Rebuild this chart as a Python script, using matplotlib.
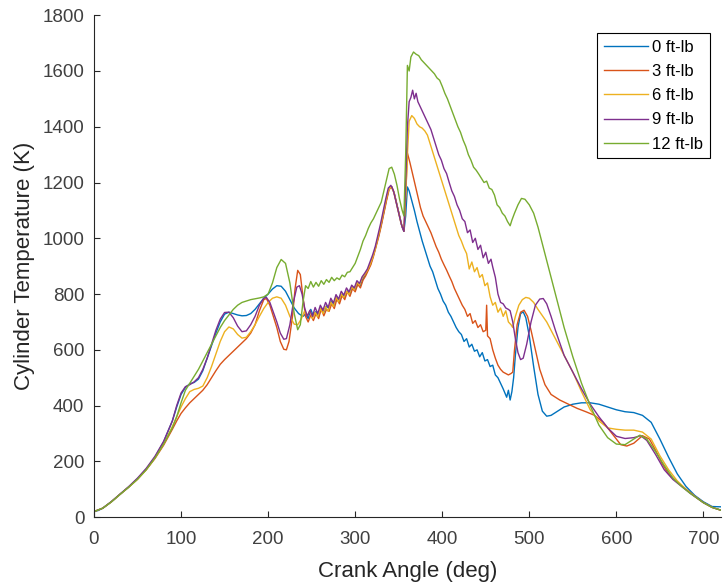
import matplotlib
matplotlib.use('Agg')
import matplotlib.pyplot as plt
import numpy as np

plt.rcParams['font.family'] = ['Liberation Sans', 'DejaVu Sans']

labels = ['0 ft-lb', '3 ft-lb', '6 ft-lb', '9 ft-lb', '12 ft-lb']
colors = ['#0072BD', '#D95319', '#EDB120', '#7E2F8E', '#77AC30']

# 0 ft-lb
blue = [(0, 20), (5, 24), (10, 32), (20, 55), (30, 82), (40, 108), (50, 138), (60, 172), (70, 215), (80, 270),
        (90, 345), (95, 395), (100, 440), (105, 465), (110, 478), (115, 483), (120, 495), (125, 525), (130, 570),
        (135, 615), (140, 660), (145, 700), (150, 728), (155, 735), (160, 730), (165, 725), (170, 722), (175, 723),
        (180, 730), (185, 745), (190, 765), (195, 785), (200, 800), (205, 818), (210, 830), (215, 828), (220, 810),
        (225, 780), (230, 750), (235, 730), (240, 720), (243, 728), (246, 712), (249, 745), (252, 722), (255, 738),
        (258, 718), (261, 752), (264, 735), (267, 758), (270, 748), (273, 775), (276, 760), (279, 790), (282, 772),
        (285, 800), (288, 788), (291, 812), (294, 798), (297, 825), (300, 815), (303, 838), (306, 830), (309, 855),
        (312, 870), (315, 890), (318, 910), (321, 940), (324, 975), (327, 1010), (330, 1050), (333, 1095),
        (336, 1140), (339, 1180), (342, 1185), (345, 1160), (348, 1120), (351, 1080), (354, 1040), (356, 1025),
        (358, 1080), (360, 1184), (362, 1170), (365, 1135), (368, 1100), (371, 1060), (374, 1025), (377, 990),
        (380, 960), (383, 930), (386, 900), (389, 880), (392, 850), (395, 820), (398, 800), (401, 775), (404, 760),
        (407, 735), (410, 720), (413, 700), (416, 680), (419, 665), (422, 655), (425, 630), (428, 640), (431, 610),
        (434, 620), (437, 595), (440, 600), (443, 575), (446, 590), (449, 560), (452, 565), (455, 540), (458, 545),
        (461, 510), (464, 500), (467, 480), (470, 460), (472, 445), (474, 430), (476, 455), (478, 420), (480, 450),
        (482, 500), (484, 580), (487, 680), (490, 730), (493, 736), (496, 715), (500, 650), (505, 540), (510, 440),
        (515, 380), (520, 362), (525, 365), (530, 375), (540, 395), (550, 405), (560, 410), (570, 410), (580, 405),
        (590, 395), (600, 385), (610, 378), (620, 375), (630, 365), (640, 340), (650, 280), (660, 215), (670, 155),
        (680, 110), (690, 78), (700, 55), (710, 38), (720, 37)]

# 3 ft-lb
red = [(0, 20), (10, 32), (20, 55), (30, 82), (40, 108), (50, 136), (60, 170), (70, 210), (80, 258), (90, 315),
       (95, 345), (100, 372), (105, 392), (110, 410), (115, 425), (120, 440), (125, 455), (130, 475), (135, 500),
       (140, 525), (145, 548), (150, 565), (155, 580), (160, 595), (165, 610), (170, 625), (175, 640), (180, 660),
       (185, 690), (190, 740), (195, 780), (198, 784), (202, 760), (206, 720), (210, 680), (214, 630), (218, 602),
       (221, 600), (224, 630), (228, 720), (231, 820), (234, 885), (237, 870), (240, 790), (243, 720), (246, 700),
       (249, 725), (252, 705), (255, 730), (258, 712), (261, 748), (264, 722), (267, 745), (270, 738), (273, 765),
       (276, 748), (279, 782), (282, 765), (285, 795), (288, 780), (291, 808), (294, 792), (297, 820), (300, 808),
       (303, 835), (306, 822), (309, 850), (312, 865), (315, 885), (318, 905), (321, 935), (324, 970), (327, 1005),
       (330, 1045), (333, 1090), (336, 1135), (339, 1175), (342, 1185), (345, 1160), (348, 1120), (351, 1080),
       (354, 1040), (356, 1025), (358, 1150), (360, 1306), (363, 1270), (366, 1230), (369, 1190), (372, 1150),
       (375, 1110), (378, 1080), (381, 1060), (384, 1040), (387, 1020), (390, 995), (393, 970), (396, 950),
       (399, 925), (402, 905), (405, 886), (408, 865), (411, 845), (414, 820), (417, 800), (420, 780), (423, 760),
       (426, 745), (429, 720), (432, 730), (435, 695), (438, 705), (441, 680), (444, 690), (447, 665), (450, 670),
       (451, 760), (452, 650), (455, 640), (458, 600), (461, 570), (464, 545), (467, 530), (470, 520), (473, 515),
       (476, 510), (479, 515), (481, 520), (483, 600), (486, 690), (490, 735), (494, 742), (498, 720), (502, 670),
       (507, 600), (512, 530), (518, 475), (525, 440), (535, 420), (545, 405), (555, 390), (565, 378), (575, 365),
       (585, 340), (595, 300), (605, 260), (612, 255), (620, 265), (630, 292), (638, 280), (645, 240), (652, 195),
       (660, 155), (670, 125), (680, 100), (690, 75), (700, 52), (710, 35), (720, 25)]

# 6 ft-lb
yellow = [(0, 20), (10, 32), (20, 55), (30, 82), (40, 108), (50, 136), (60, 170), (70, 212), (80, 262), (90, 325),
          (95, 360), (100, 395), (105, 425), (110, 450), (115, 458), (120, 462), (125, 470), (130, 500), (135, 540),
          (140, 585), (145, 630), (150, 665), (155, 682), (160, 675), (165, 655), (170, 642), (175, 645), (180, 665),
          (185, 690), (190, 720), (195, 748), (200, 770), (205, 785), (210, 790), (215, 785), (220, 760), (225, 720),
          (230, 692), (234, 690), (238, 710), (242, 740), (245, 722), (248, 740), (251, 712), (254, 735), (257, 718),
          (260, 748), (263, 730), (266, 755), (269, 738), (272, 772), (275, 755), (278, 788), (281, 772), (284, 800),
          (287, 788), (290, 810), (293, 798), (296, 826), (299, 815), (302, 842), (305, 832), (308, 858), (311, 870),
          (314, 885), (317, 905), (320, 930), (323, 960), (326, 1000), (329, 1040), (332, 1085), (335, 1130),
          (338, 1170), (341, 1185), (344, 1170), (347, 1130), (350, 1090), (353, 1050), (356, 1030), (358, 1150),
          (360, 1300), (362, 1420), (365, 1440), (368, 1430), (371, 1410), (374, 1400), (377, 1395), (380, 1385),
          (383, 1370), (386, 1340), (389, 1310), (392, 1280), (395, 1250), (398, 1220), (401, 1190), (404, 1160),
          (407, 1130), (410, 1100), (413, 1070), (416, 1040), (419, 1010), (422, 990), (425, 965), (428, 945),
          (431, 890), (434, 915), (437, 880), (440, 895), (443, 860), (446, 870), (449, 830), (452, 840), (455, 790),
          (458, 760), (461, 770), (464, 735), (467, 750), (470, 720), (473, 740), (476, 700), (479, 690), (481, 680),
          (484, 720), (488, 760), (492, 780), (496, 788), (500, 785), (505, 770), (510, 745), (520, 700), (530, 640),
          (540, 580), (550, 520), (560, 450), (570, 385), (580, 345), (590, 320), (600, 315), (610, 312), (620, 312),
          (630, 305), (640, 280), (650, 220), (660, 170), (670, 130), (680, 100), (690, 75), (700, 52), (710, 35),
          (720, 25)]

# 9 ft-lb
purple = [(0, 20), (10, 32), (20, 56), (30, 83), (40, 110), (50, 140), (60, 175), (70, 218), (80, 272), (90, 345),
          (95, 400), (100, 445), (105, 468), (110, 475), (115, 485), (120, 500), (125, 530), (130, 570), (135, 620),
          (140, 670), (145, 710), (150, 734), (155, 735), (160, 715), (165, 685), (170, 665), (175, 668), (180, 690),
          (185, 720), (190, 760), (195, 785), (198, 788), (202, 770), (206, 735), (210, 700), (214, 660), (218, 638),
          (221, 640), (225, 690), (229, 770), (233, 825), (236, 830), (239, 800), (242, 750), (245, 720), (248, 742),
          (251, 720), (254, 752), (257, 730), (260, 760), (263, 742), (266, 770), (269, 752), (272, 785), (275, 768),
          (278, 798), (281, 782), (284, 810), (287, 796), (290, 822), (293, 808), (296, 832), (299, 822), (302, 848),
          (305, 838), (308, 862), (311, 875), (314, 890), (317, 915), (320, 940), (323, 970), (326, 1010),
          (329, 1050), (332, 1095), (335, 1140), (338, 1180), (341, 1190), (344, 1170), (347, 1130), (350, 1090),
          (353, 1050), (356, 1025), (358, 1200), (360, 1400), (362, 1490), (364, 1505), (366, 1531), (368, 1500),
          (370, 1520), (372, 1490), (375, 1470), (378, 1450), (381, 1430), (384, 1410), (387, 1390), (390, 1360),
          (393, 1330), (396, 1300), (399, 1280), (402, 1250), (405, 1232), (408, 1200), (411, 1170), (414, 1150),
          (417, 1120), (420, 1100), (423, 1070), (426, 1060), (429, 1020), (432, 1030), (435, 985), (438, 1000),
          (441, 960), (444, 975), (447, 930), (450, 950), (453, 910), (456, 925), (458, 897), (461, 860), (464, 800),
          (467, 770), (470, 765), (473, 750), (476, 745), (478, 740), (481, 700), (484, 640), (487, 590), (490, 565),
          (493, 570), (497, 620), (502, 700), (507, 760), (512, 782), (516, 784), (520, 765), (525, 720), (530, 670),
          (540, 580), (550, 520), (560, 460), (570, 405), (580, 360), (590, 320), (600, 290), (610, 282), (620, 285),
          (628, 292), (635, 275), (645, 225), (655, 170), (665, 135), (675, 110), (685, 85), (700, 52), (710, 35),
          (720, 25)]

# 12 ft-lb
green = [(0, 20), (10, 32), (20, 55), (30, 82), (40, 108), (50, 136), (60, 170), (70, 212), (80, 262), (90, 320),
         (95, 360), (100, 410), (105, 455), (110, 480), (115, 505), (120, 530), (125, 560), (130, 590), (135, 620),
         (140, 650), (145, 680), (150, 705), (155, 725), (160, 745), (165, 760), (170, 770), (175, 775), (180, 780),
         (185, 783), (190, 786), (195, 790), (200, 800), (205, 840), (210, 895), (215, 924), (220, 910), (225, 840),
         (230, 730), (234, 672), (237, 690), (240, 770), (243, 830), (246, 820), (249, 845), (252, 825), (255, 842),
         (258, 828), (261, 848), (264, 835), (267, 852), (270, 842), (273, 860), (276, 848), (279, 858), (282, 852),
         (285, 868), (288, 862), (291, 878), (294, 880), (297, 895), (300, 910), (303, 935), (306, 960), (309, 990),
         (312, 1010), (315, 1035), (318, 1055), (321, 1070), (324, 1090), (327, 1110), (330, 1130), (333, 1170),
         (336, 1210), (339, 1250), (342, 1255), (345, 1230), (348, 1190), (351, 1140), (354, 1100), (356, 1080),
         (358, 1300), (360, 1620), (362, 1600), (364, 1650), (367, 1668), (370, 1660), (373, 1655), (376, 1640),
         (379, 1630), (382, 1620), (385, 1610), (388, 1600), (391, 1590), (394, 1575), (397, 1567), (400, 1545),
         (403, 1520), (406, 1500), (409, 1475), (412, 1450), (415, 1425), (418, 1400), (421, 1380), (424, 1352),
         (427, 1330), (430, 1300), (433, 1280), (436, 1255), (439, 1244), (442, 1230), (445, 1215), (448, 1200),
         (451, 1205), (454, 1180), (457, 1175), (460, 1155), (463, 1120), (466, 1110), (469, 1090), (472, 1080),
         (475, 1060), (478, 1045), (480, 1065), (483, 1090), (487, 1120), (491, 1143), (495, 1140), (500, 1120),
         (505, 1090), (510, 1040), (515, 980), (520, 920), (525, 860), (530, 800), (540, 680), (550, 575),
         (560, 480), (570, 400), (580, 330), (590, 285), (600, 262), (610, 260), (620, 280), (627, 294), (635, 280),
         (645, 235), (655, 185), (665, 140), (675, 110), (685, 85), (700, 52), (710, 35), (720, 25)]

series = [blue, red, yellow, purple, green]

fig = plt.figure(figsize=(7.23, 5.85), dpi=100)
ax = fig.add_axes([0.130, 0.116, 0.867, 0.858])

for data, c, lab in zip(series, colors, labels):
    d = np.array(data)
    ax.plot(d[:, 0], d[:, 1], color=c, lw=1.0, label=lab)

ax.set_xlim(0, 720)
ax.set_ylim(0, 1800)
ax.set_xticks(range(0, 701, 100))
ax.set_yticks(range(0, 1801, 200))
ax.spines['top'].set_visible(False)
ax.spines['right'].set_visible(False)
for s in ['left', 'bottom']:
    ax.spines[s].set_color('#262626')
    ax.spines[s].set_linewidth(0.8)
ax.tick_params(direction='in', length=4, width=0.8, colors='#262626', labelsize=13.5,
               labelcolor='#404040')
ax.tick_params(axis='x', pad=10)
ax.tick_params(axis='y', pad=7)
ax.set_xlabel('Crank Angle (deg)', fontsize=16, color='#262626', labelpad=9)
ax.set_ylabel('Cylinder Temperature (K)', fontsize=16, color='#262626', labelpad=5)

leg = ax.legend(loc='upper right', bbox_to_anchor=(0.9825, 0.964), fontsize=12,
                fancybox=False, edgecolor='black', framealpha=1, handlelength=2.65,
                handletextpad=0.25, borderpad=0.4, labelspacing=0.55, borderaxespad=0)
leg.get_frame().set_linewidth(0.8)

fig.savefig('out.png', dpi=100)
